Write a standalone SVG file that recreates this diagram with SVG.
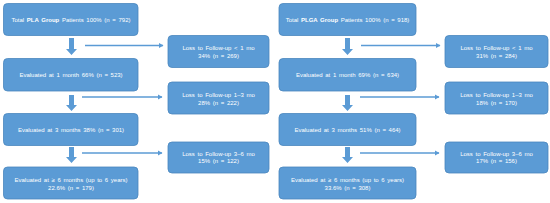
<svg xmlns="http://www.w3.org/2000/svg" width="550" height="203" viewBox="0 0 550 203">
<defs>
<style>
.box{fill:#5B9BD5;stroke:#4A86BE;stroke-width:0.8}
.t{fill:#ffffff;font-family:"Liberation Sans","DejaVu Sans",sans-serif;font-size:6px;text-anchor:middle;word-spacing:1px}
.b{font-weight:bold}
.conn{stroke:#5B9BD5;stroke-width:1.6;fill:none}
.blk{fill:#5B9BD5}
</style>
<marker id="ah" markerWidth="6" markerHeight="6" refX="4" refY="3" orient="auto" markerUnits="userSpaceOnUse">
<path d="M0,0.5 L4.5,3 L0,5.5 Z" fill="#5B9BD5"/>
</marker>
</defs>
<rect width="550" height="203" fill="#ffffff"/>

<g id="connectors">
<path class="blk" d="M69,38 H74 V49 H77 L71.5,55 L66,49 H69 Z"/>
<path class="blk" d="M69,95 H74 V105 H77 L71.5,111 L66,105 H69 Z"/>
<path class="blk" d="M69,147 H74 V157 H77 L71.5,163 L66,157 H69 Z"/>
<line class="conn" x1="85" y1="45.5" x2="163" y2="45.5" marker-end="url(#ah)"/>
<line class="conn" x1="82" y1="97" x2="162" y2="97" marker-end="url(#ah)"/>
<line class="conn" x1="82" y1="153" x2="162" y2="153" marker-end="url(#ah)"/>

<path class="blk" d="M345,38 H350 V49 H353 L347.5,55 L342,49 H345 Z"/>
<path class="blk" d="M345,95 H350 V105 H353 L347.5,111 L342,105 H345 Z"/>
<path class="blk" d="M345,147 H350 V157 H353 L347.5,163 L342,157 H345 Z"/>
<line class="conn" x1="361" y1="45.5" x2="440" y2="45.5" marker-end="url(#ah)"/>
<line class="conn" x1="360" y1="97" x2="439" y2="97" marker-end="url(#ah)"/>
<line class="conn" x1="360" y1="153" x2="439" y2="153" marker-end="url(#ah)"/>
</g>

<g id="pla-total">
<rect class="box" x="3.5" y="3.5" width="134.5" height="32" rx="4"/>
<text class="t" x="71" y="21.5">Total <tspan class="b">PLA Group</tspan> Patients 100% (n = 792)</text>
</g>
<g id="pla-loss1">
<rect class="box" x="168" y="35.5" width="101" height="32" rx="4"/>
<text class="t" x="218.5" y="49.5">Loss to Follow-up &lt; 1 mo</text>
<text class="t" x="218.5" y="57.5">34% (n = 269)</text>
</g>
<g id="pla-eval1">
<rect class="box" x="3.5" y="58.5" width="134.5" height="32.5" rx="4"/>
<text class="t" x="71" y="77">Evaluated at 1 month 66% (n = 523)</text>
</g>
<g id="pla-loss2">
<rect class="box" x="168" y="82" width="101" height="32" rx="4"/>
<text class="t" x="218.5" y="96.5">Loss to Follow-up 1–3 mo</text>
<text class="t" x="218.5" y="104.5">28% (n = 222)</text>
</g>
<g id="pla-eval3">
<rect class="box" x="3.5" y="113.5" width="134.5" height="32" rx="4"/>
<text class="t" x="71" y="132">Evaluated at 3 months 38% (n = 301)</text>
</g>
<g id="pla-loss3">
<rect class="box" x="168" y="142" width="101" height="31" rx="4"/>
<text class="t" x="218.5" y="155.5">Loss to Follow-up 3–6 mo</text>
<text class="t" x="218.5" y="163">15% (n = 122)</text>
</g>
<g id="pla-eval6">
<rect class="box" x="3.5" y="167" width="134.5" height="32" rx="4"/>
<text class="t" x="71" y="182">Evaluated at ≥ 6 months (up to 6 years)</text>
<text class="t" x="71" y="189.5">22.6% (n = 179)</text>
</g>

<g id="plga-total">
<rect class="box" x="279" y="3.5" width="137" height="32" rx="4"/>
<text class="t" x="347.5" y="21.5">Total <tspan class="b">PLGA Group</tspan> Patients 100% (n = 918)</text>
</g>
<g id="plga-loss1">
<rect class="box" x="445" y="35.5" width="103" height="32" rx="4"/>
<text class="t" x="496.5" y="49.5">Loss to Follow-up &lt; 1 mo</text>
<text class="t" x="496.5" y="57.5">31% (n = 284)</text>
</g>
<g id="plga-eval1">
<rect class="box" x="279" y="58.5" width="137" height="32.5" rx="4"/>
<text class="t" x="347.5" y="77">Evaluated at 1 month 69% (n = 634)</text>
</g>
<g id="plga-loss2">
<rect class="box" x="445" y="82" width="103" height="32" rx="4"/>
<text class="t" x="496.5" y="96.5">Loss to Follow-up 1–3 mo</text>
<text class="t" x="496.5" y="104.5">18% (n = 170)</text>
</g>
<g id="plga-eval3">
<rect class="box" x="279" y="113.5" width="137" height="32" rx="4"/>
<text class="t" x="347.5" y="132">Evaluated at 3 months 51% (n = 464)</text>
</g>
<g id="plga-loss3">
<rect class="box" x="445" y="142" width="103" height="31" rx="4"/>
<text class="t" x="496.5" y="155.5">Loss to Follow-up 3–6 mo</text>
<text class="t" x="496.5" y="163">17% (n = 156)</text>
</g>
<g id="plga-eval6">
<rect class="box" x="279" y="167" width="137" height="32" rx="4"/>
<text class="t" x="347.5" y="182">Evaluated at ≥ 6 months (up to 6 years)</text>
<text class="t" x="347.5" y="189.5">33.6% (n = 308)</text>
</g>
</svg>
